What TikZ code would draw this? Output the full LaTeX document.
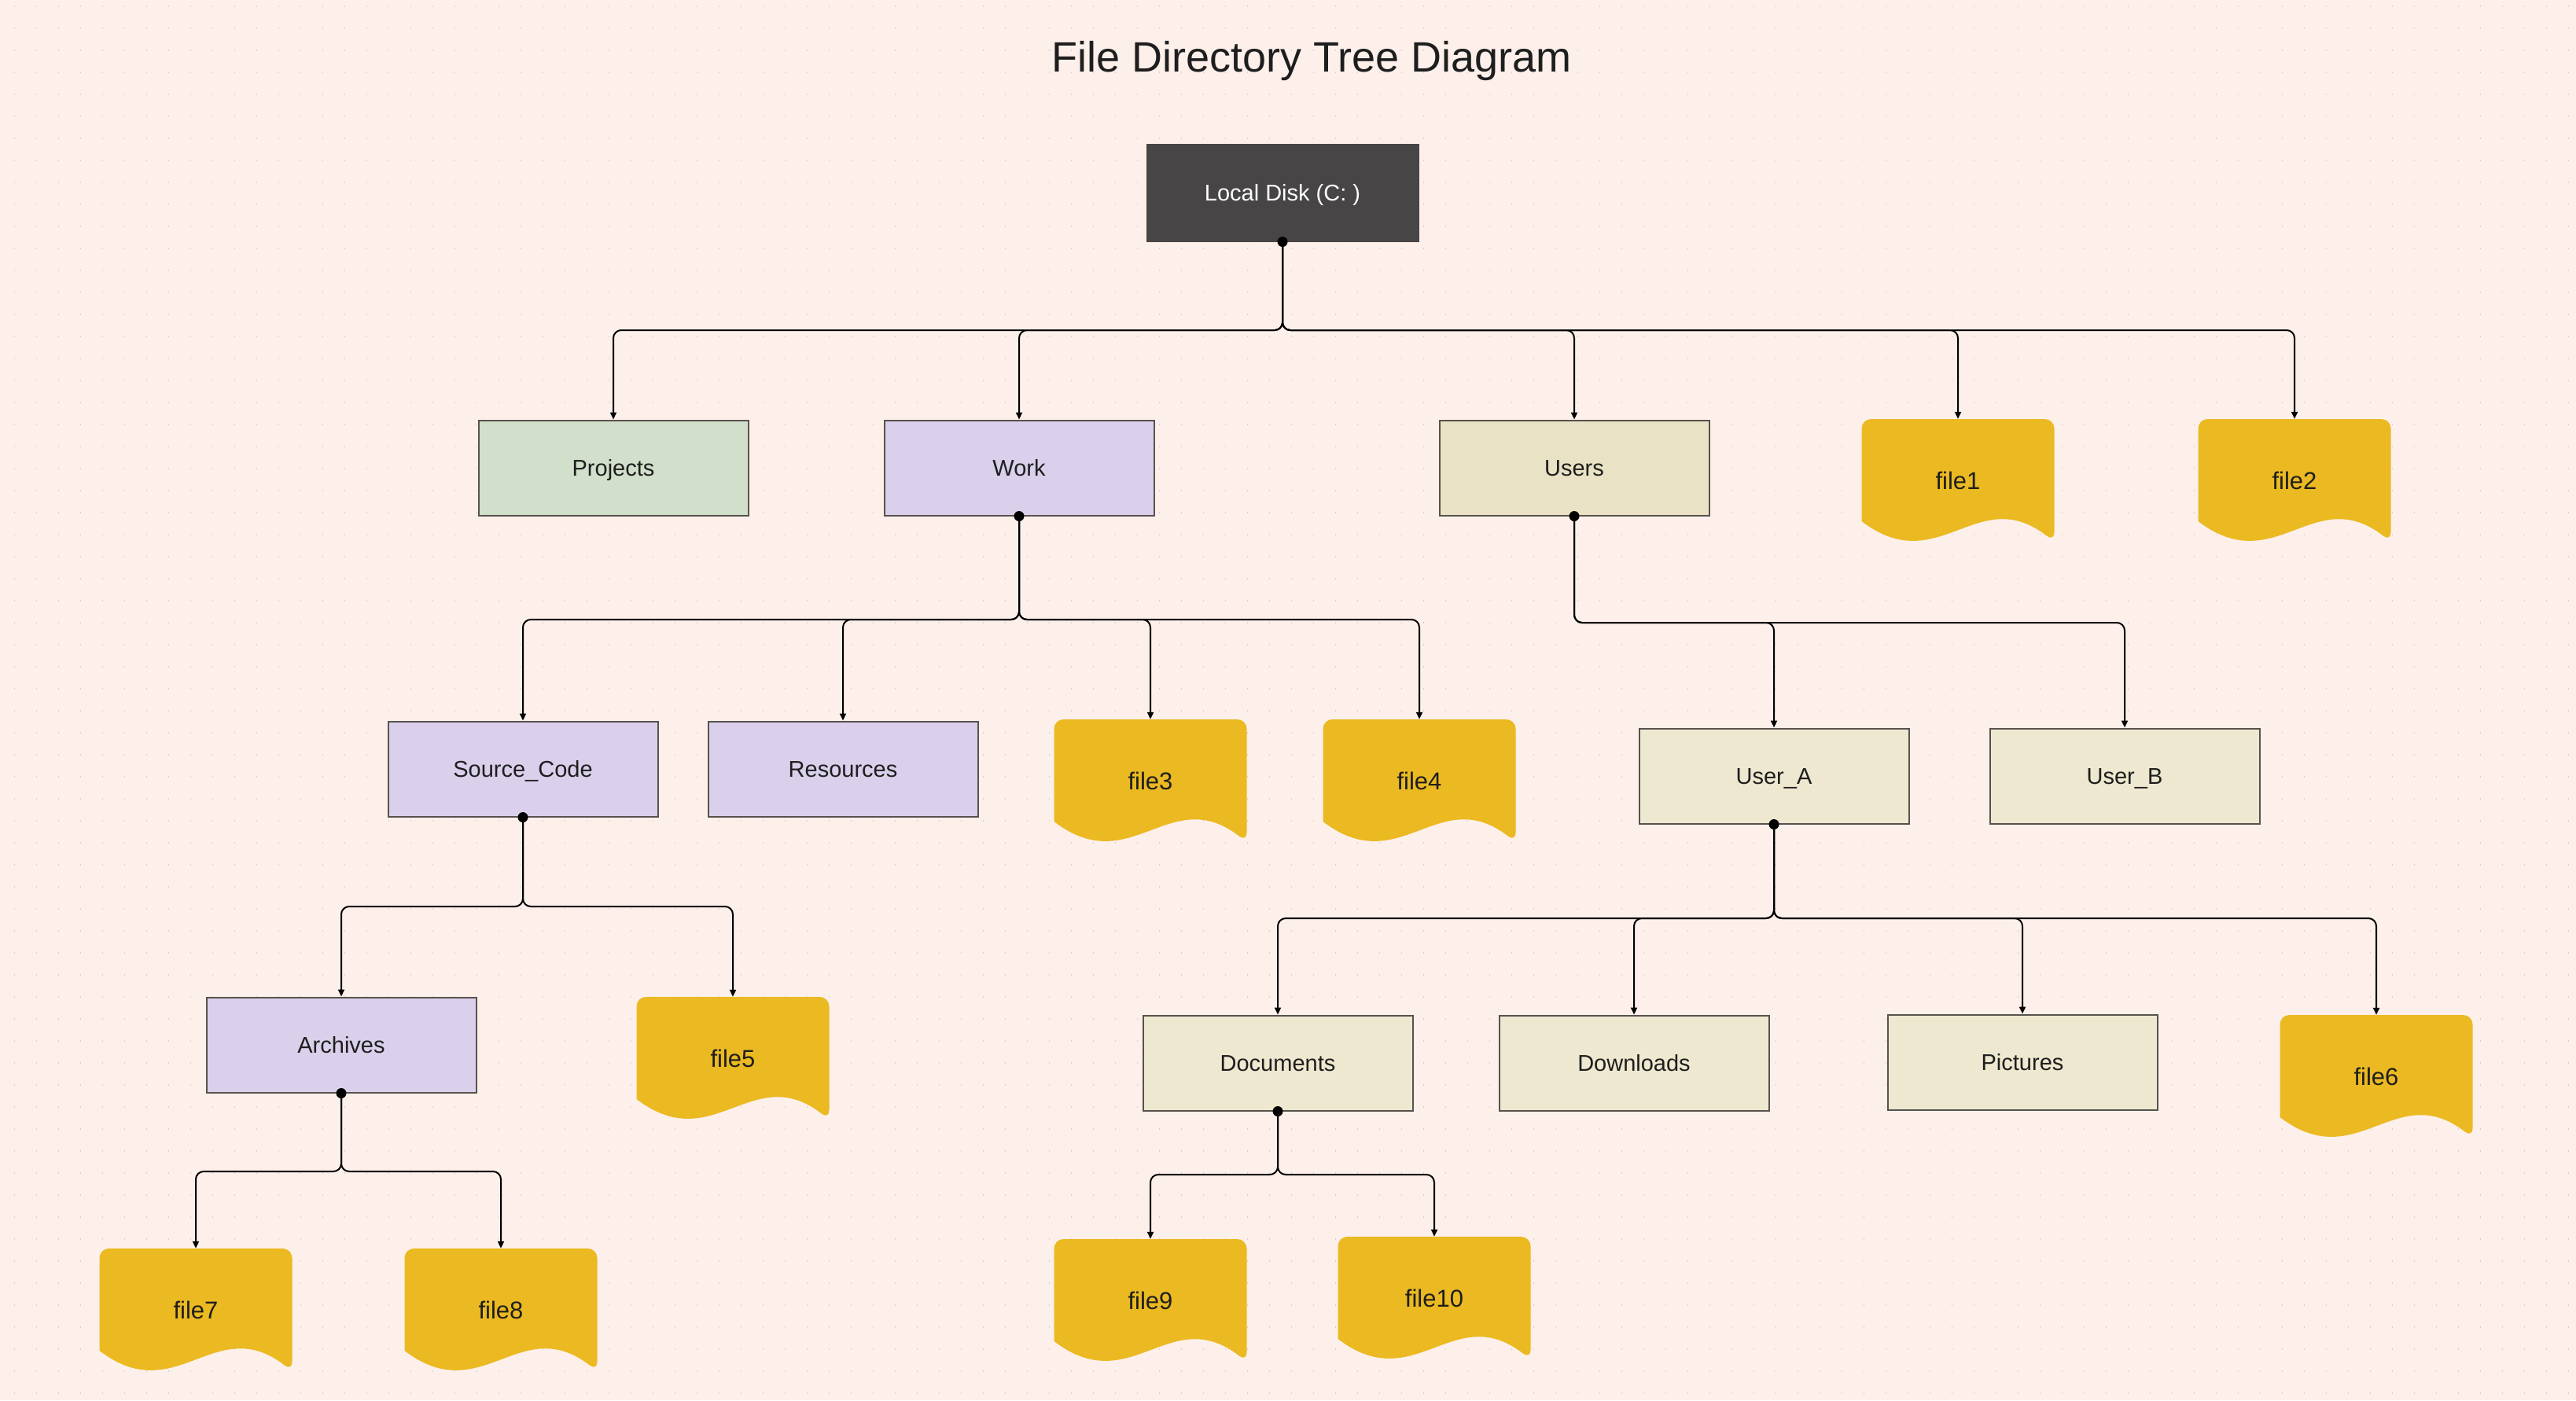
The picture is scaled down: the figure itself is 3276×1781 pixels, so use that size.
\documentclass[tikz,border=0pt]{standalone}
\usepackage{fontspec}
\setmainfont{Liberation Sans}
\usetikzlibrary{arrows.meta}
\definecolor{bgc}{HTML}{FDF0EB}
\definecolor{dotc}{HTML}{D6D0CA}
\definecolor{greenc}{HTML}{D2DFCA}
\definecolor{purplec}{HTML}{DAD0EC}
\definecolor{usersc}{HTML}{E9E2C4}
\definecolor{userlc}{HTML}{EDE8CF}
\definecolor{filec}{HTML}{EBB921}
\definecolor{rootc}{HTML}{474546}
\definecolor{bordc}{HTML}{57524E}
\definecolor{txtc}{HTML}{1E1E1E}
\newcommand\filedoc[4]{%
  \fill[filec] ({#2-122.5},{#3+130}) [rounded corners=12pt] -- ({#2-122.5},#3) -- ({#2+122.5},#3) -- ({#2+122.5},{#3+156}) [sharp corners]
    .. controls ({#2+24.5},{#3+80}) and ({#2-24.5},{#3+205}) .. ({#2-122.5},{#3+130}) -- cycle;
  \node[filebox] (#1) at (#2,{#3+78}) {#4};
}
\begin{document}
\begin{tikzpicture}[x=1pt,y=-1pt,
  box/.style={draw=bordc, line width=2pt, minimum width=343pt, minimum height=121pt, inner sep=0pt,
    text=txtc, font=\fontsize{29}{34}\selectfont, text height=21pt, text depth=0pt},
  filebox/.style={minimum width=245pt, minimum height=156pt, inner sep=0pt, text=txtc,
    font=\fontsize{31}{36}\selectfont, text height=22pt, text depth=0pt},
  conn/.style={draw=black, line width=2pt, rounded corners=10pt, -{Triangle[length=9pt,width=8pt]}},
  startdot/.style={fill=black},
  dotrow/.style={draw=dotc, line width=1.6pt, dash pattern=on 1.6pt off 26.4pt}
]
\useasboundingbox (0,0) rectangle (3276,1781);
\fill[bgc] (0,0) rectangle (3276,1781);
\foreach \r in {0,...,63} \draw[dotrow] (17.7,{8+28*\r}) -- (3276,{8+28*\r});

\node[anchor=base, text=txtc, font=\fontsize{54}{60}\selectfont] (title) at (1668,91) {File Directory Tree Diagram};

% nodes
\node[box, fill=rootc, draw=rootc, text=white, minimum width=345pt, minimum height=123pt] (root) at (1631,245) {Local Disk (C: )};
\node[box, fill=greenc] (proj) at (780,595) {Projects};
\node[box, fill=purplec] (work) at (1296,595) {Work};
\node[box, fill=usersc] (users) at (2002,595) {Users};
\filedoc{f1}{2490}{533}{file1}
\filedoc{f2}{2918}{533}{file2}

\node[box, fill=purplec] (src) at (665,978) {Source\_Code};
\node[box, fill=purplec] (res) at (1072,978) {Resources};
\filedoc{f3}{1463}{915}{file3}
\filedoc{f4}{1805}{915}{file4}
\node[box, fill=userlc] (usera) at (2256,987) {User\_A};
\node[box, fill=userlc] (userb) at (2702,987) {User\_B};

\node[box, fill=purplec] (arch) at (434,1329) {Archives};
\filedoc{f5}{932}{1268}{file5}
\node[box, fill=userlc] (docs) at (1625,1352) {Documents};
\node[box, fill=userlc] (down) at (2078,1352) {Downloads};
\node[box, fill=userlc] (pics) at (2572,1351) {Pictures};
\filedoc{f6}{3022}{1291}{file6}

\filedoc{f7}{249}{1588}{file7}
\filedoc{f8}{637}{1588}{file8}
\filedoc{f9}{1463}{1576}{file9}
\filedoc{f10}{1824}{1573}{file10}

% bus coordinates
\coordinate (rootbus) at (1631,420);
\coordinate (workbus) at (1296,788);
\coordinate (usersbus) at (2002,792);
\coordinate (srcbus) at (665,1153);
\coordinate (userabus) at (2256,1168);
\coordinate (archbus) at (434,1490);
\coordinate (docsbus) at (1625,1494);

% connectors
\foreach \c in {proj,work,users,f1,f2} \draw[conn] (root.south) -- (rootbus) -| (\c.north);
\foreach \c in {src,res,f3,f4} \draw[conn] (work.south) -- (workbus) -| (\c.north);
\foreach \c in {usera,userb} \draw[conn] (users.south) -- (usersbus) -| (\c.north);
\foreach \c in {arch,f5} \draw[conn] (src.south) -- (srcbus) -| (\c.north);
\foreach \c in {docs,down,pics,f6} \draw[conn] (usera.south) -- (userabus) -| (\c.north);
\foreach \c in {f7,f8} \draw[conn] (arch.south) -- (archbus) -| (\c.north);
\foreach \c in {f9,f10} \draw[conn] (docs.south) -- (docsbus) -| (\c.north);

% start dots
\foreach \p in {root,work,users,src,usera,arch,docs} \fill[startdot] (\p.south) circle[radius=6.5pt];
\end{tikzpicture}
\end{document}
